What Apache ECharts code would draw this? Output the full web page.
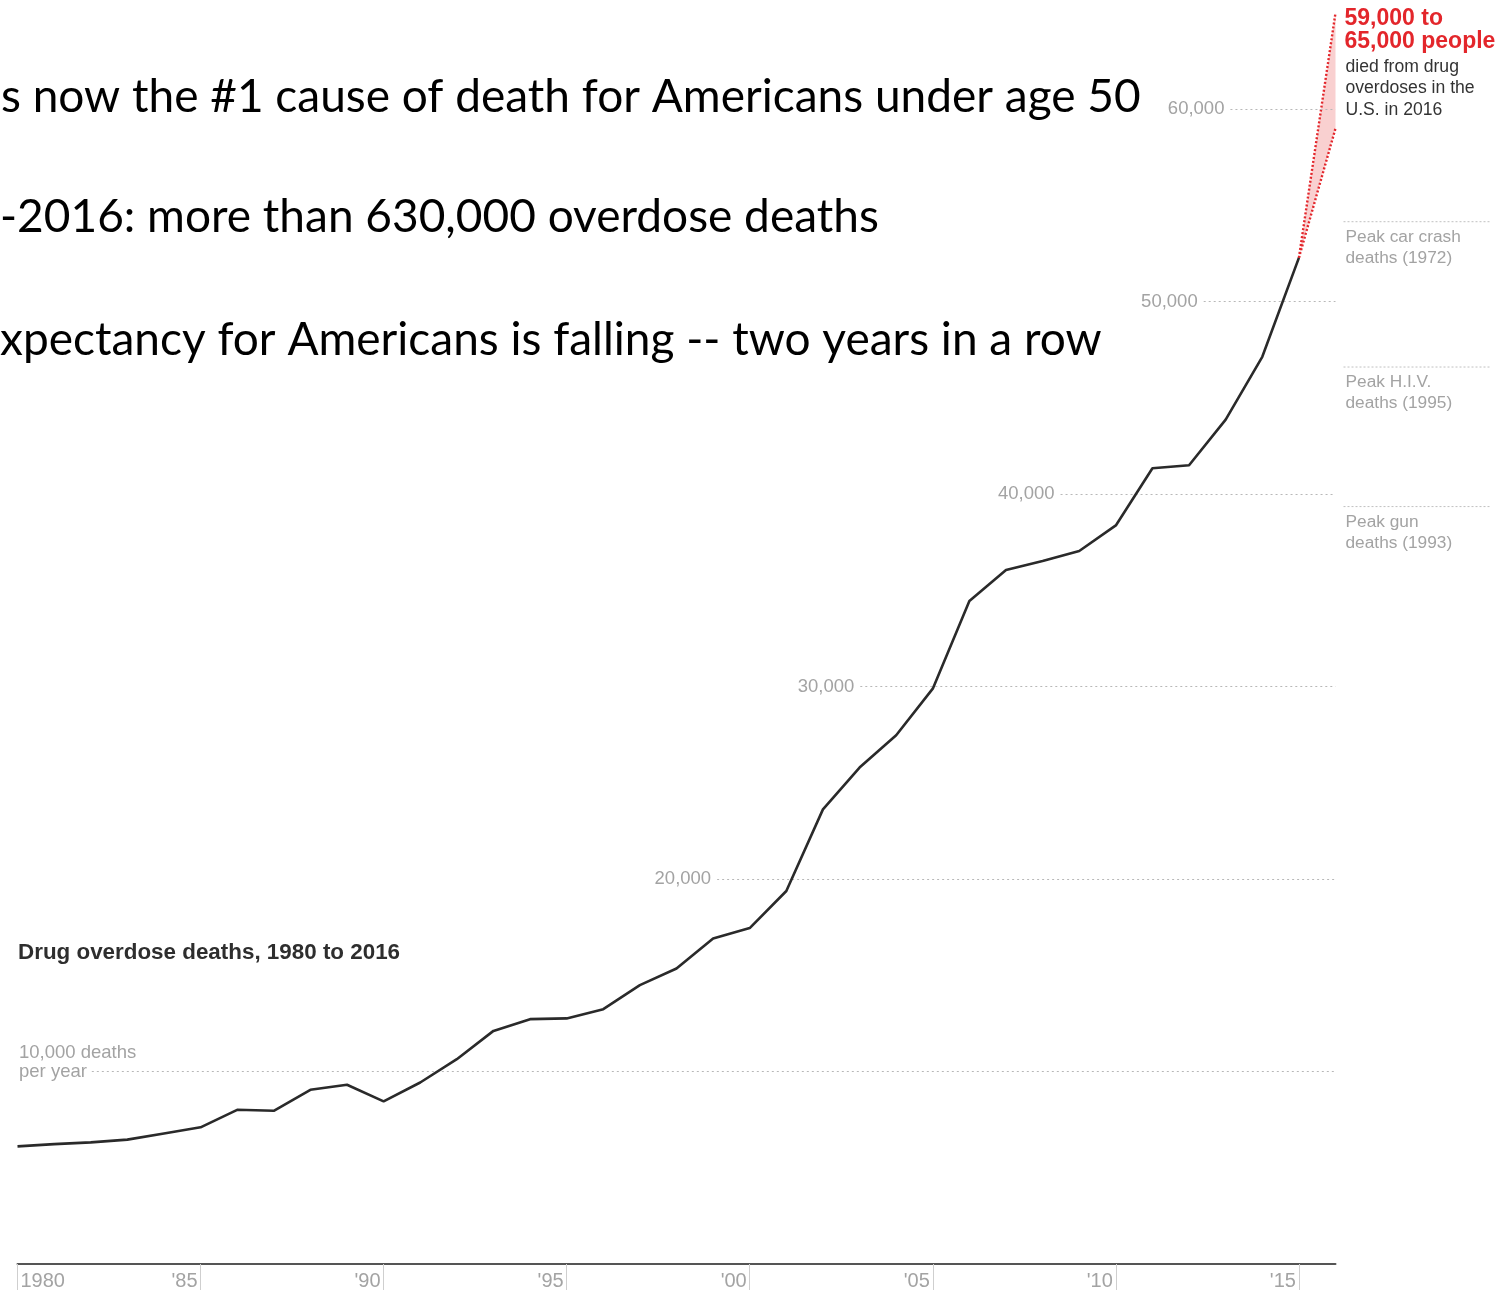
<!DOCTYPE html>
<html><head><meta charset="utf-8">
<script src="https://cdn.jsdelivr.net/npm/echarts@6/dist/echarts.min.js"></script>
<style>html,body{margin:0;padding:0;background:#fff;}#chart{width:1511px;height:1291px;}</style>
</head><body><div id="chart"></div>
<script>
// ---------- data ----------
const years = [1980,1981,1982,1983,1984,1985,1986,1987,1988,1989,1990,1991,1992,1993,1994,1995,1996,1997,1998,1999,2000,2001,2002,2003,2004,2005,2006,2007,2008,2009,2010,2011,2012,2013,2014,2015];
const deaths = [6110,6230,6320,6460,6780,7100,8010,7960,9050,9310,8450,9430,10640,12110,12720,12760,13240,14490,15350,16910,17450,19380,23620,25790,27470,29890,34440,36050,36520,37040,38370,41340,41500,43870,47130,52270];
const estimateYear = 2016;
const estimateLow = 59000;
const estimateHigh = 65000;
const gridValues = [10000,20000,30000,40000,50000,60000];
const gridLabels = ['10,000 deaths\nper year','20,000','30,000','40,000','50,000','60,000'];
const tickYears = [1980,1985,1990,1995,2000,2005,2010,2015];
const tickLabels = ['1980',"'85","'90","'95","'00","'05","'10","'15"];
const peakNames = ['Peak car crash\ndeaths (1972)','Peak H.I.V.\ndeaths (1995)','Peak gun\ndeaths (1993)'];
const peakValues = [54150,46600,39350];
const estimateHeadline = '59,000 to\n65,000 people';
const estimateNote = 'died from drug\noverdoses in the\nU.S. in 2016';
const chartTitle = 'Drug overdose deaths, 1980 to 2016';
const headlines = ['\u2019s now the #1 cause of death for Americans under age 50', '-2016: more than 630,000 overdose deaths', 'xpectancy for Americans is falling -- two years in a row'];

// ---------- layout (not data) ----------
const gridStartYears = [1982.03,1999.11,2003.02,2008.49,2012.40,2013.13];
const FONT = '"Liberation Sans", Arial, sans-serif';
const GRAY = '#a3a3a3';

const chart = echarts.init(document.getElementById('chart'), null, {renderer:'canvas'});

const lineData = years.map((y,i)=>[y,deaths[i]]);
const markData = gridValues.map((v,i)=>[
  {coord:[gridStartYears[i], v], label:{show:i>0, position:'start', formatter:gridLabels[i], distance:6, color:GRAY, fontSize:18.5, fontFamily:FONT}},
  {coord:[estimateYear, v]}
]);

chart.setOption({
  animation:false,
  grid:{left:17.5, right:175.5, top:12.85, bottom:25.6, containLabel:false},
  xAxis:{type:'value', min:1980, max:estimateYear, interval:5,
    axisLine:{lineStyle:{color:'#555', width:2}},
    axisTick:{customValues:tickYears, length:26, lineStyle:{color:'#cfcfcf', width:1}},
    axisLabel:{customValues:tickYears, formatter:v=>tickLabels[tickYears.indexOf(v)], align:'right', alignMinLabel:'left', margin:7, padding:[0,3,0,3], color:GRAY, fontSize:20, fontFamily:FONT},
    splitLine:{show:false}},
  yAxis:{type:'value', min:0, max:estimateHigh, axisLine:{show:false}, axisTick:{show:false}, axisLabel:{show:false}, splitLine:{show:false}},
  series:[
    {type:'line', data:lineData, showSymbol:false, lineStyle:{color:'#2a2a2a', width:2.6}, z:5,
     markLine:{silent:true, symbol:['none','none'], lineStyle:{color:'#b8b8b8', width:1, type:[2,3]}, data:markData}},
    {type:'custom', z:4,
     data:[[years[years.length-1], deaths[deaths.length-1], estimateYear, estimateLow, estimateHigh]],
     encode:{x:[0,2], y:[1,3,4]},
     renderItem:(params, api)=>{
       const p0 = api.coord([api.value(0), api.value(1)]);
       const pl = api.coord([api.value(2), api.value(3)]);
       const ph = api.coord([api.value(2), api.value(4)]);
       const red = '#e3262b';
       return {type:'group', children:[
         {type:'polygon', shape:{points:[p0,ph,pl]}, style:{fill:'#f9d0d0'}},
         {type:'line', shape:{x1:p0[0],y1:p0[1],x2:ph[0],y2:ph[1]}, style:{stroke:red, lineWidth:2.4, lineDash:[2,2]}},
         {type:'line', shape:{x1:p0[0],y1:p0[1],x2:pl[0],y2:pl[1]}, style:{stroke:red, lineWidth:2.4, lineDash:[2,2]}}
       ]};
     }}
  ]
});

// ---------- annotations positioned through the axes ----------
const py = v => chart.convertToPixel({yAxisIndex:0}, v);
const px = v => chart.convertToPixel({xAxisIndex:0}, v);

const ctx = document.createElement('canvas').getContext('2d');
function fitSize(text, family, weight, target){
  ctx.font = weight + ' 100px ' + family;
  return 100 * target / ctx.measureText(text).width;
}
const HFONT = 'Lato';
const hSize = fitSize(headlines[0].slice(1), HFONT, 'normal', 1140);
ctx.font = 'normal ' + hSize + 'px ' + HFONT;
const apW = ctx.measureText('\u2019').width;

const graphics = [];
const hY = [97, 217, 340];
const hX = [5 - apW - 3, 0, 0];
headlines.forEach((t,i)=>{
  graphics.push({type:'text', x:hX[i], y:hY[i], style:{text:t, fontFamily:HFONT, fontSize:hSize, fill:'#000', verticalAlign:'middle', align:'left'}});
});
graphics.push({type:'text', x:18, y:953, style:{text:chartTitle, fontFamily:FONT, fontWeight:'bold', fontSize:22.4, fill:'#2e2e2e', verticalAlign:'middle'}});
const y10 = py(gridValues[0]);
graphics.push({type:'text', x:19, y:y10 - 9.5, style:{text:gridLabels[0], fontFamily:FONT, fontSize:18.5, lineHeight:19, fill:GRAY, verticalAlign:'middle'}});

const xr = px(estimateYear);
peakValues.forEach((v,i)=>{
  const y = py(v);
  graphics.push({type:'line', shape:{x1:xr+8, y1:y, x2:xr+155, y2:y}, style:{stroke:'#c0c0c0', lineWidth:1, lineDash:[2,2]}});
  graphics.push({type:'text', x:xr+10, y:y+5, style:{text:peakNames[i], fontFamily:FONT, fontSize:17.3, lineHeight:21, fill:GRAY, verticalAlign:'top'}});
});
const yh = py(estimateHigh);
graphics.push({type:'text', x:xr+9, y:yh-5, style:{text:estimateHeadline, fontFamily:FONT, fontWeight:'bold', fontSize:23, lineHeight:22.5, fill:'#e3262b', verticalAlign:'top'}});
graphics.push({type:'text', x:xr+10, y:56, style:{text:estimateNote, fontFamily:FONT, fontSize:17.6, lineHeight:21.5, fill:'#333', verticalAlign:'top'}});

chart.setOption({graphic:graphics});
</script></body></html>
